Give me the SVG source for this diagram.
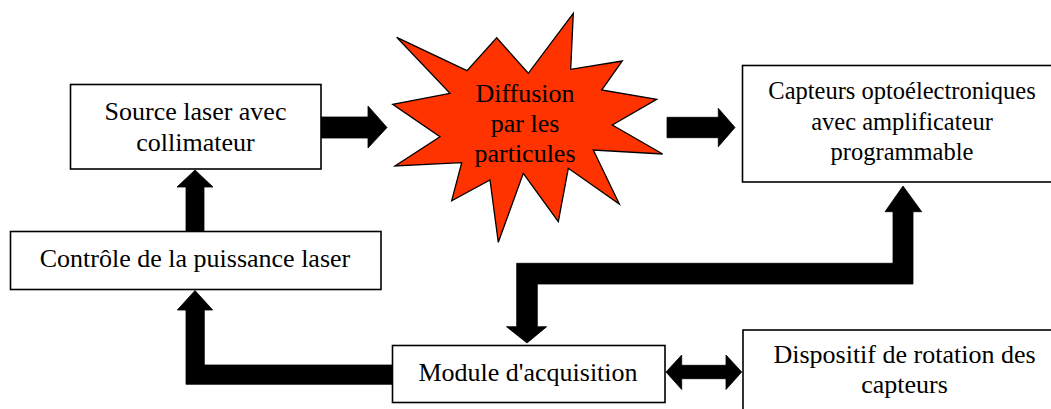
<svg xmlns="http://www.w3.org/2000/svg" width="1051" height="409" viewBox="0 0 1051 409">
<style>
.box{fill:#fff;stroke:#000;stroke-width:1.6}
.t{font-family:"Liberation Serif","Times New Roman",serif;font-size:26px;fill:#000;text-anchor:middle}
.s{font-size:24.5px}
.arr{fill:#000;stroke:#000;stroke-width:0.8;stroke-linejoin:miter}
.star{fill:#FF3300;stroke:#000;stroke-width:1.3;stroke-linejoin:miter}
</style>
<rect width="1051" height="409" fill="#fff"/>
<g id="connectors">
<polygon class="arr" points="321,117 368,117 368,106 387,127.5 368,148 368,138 321,138"/>
<polygon class="arr" points="667,117.3 718.3,117.3 718.3,108.3 735,127.5 718.3,146.7 718.3,137.7 667,137.7"/>
<polygon class="arr" points="186,231 186,187 177,187 195,170 213,187 204,187 204,231"/>
<polygon class="arr" points="392,365 204.3,365 204.3,310 212.7,310 195,290.5 177.3,310 186,310 186,384.3 392,384.3"/>
<polygon class="arr" points="903,186 921.7,211.7 913,211.7 913,284 537.3,284 537.3,326.7 546.7,326.7 527,343 506.5,326.7 516.7,326.7 516.7,263.3 893,263.3 893,211.7 885,211.7"/>
<polygon class="arr" points="666,372 681.7,355 681.7,365.3 726,365.3 726,355 741.7,372 726,389.5 726,378.7 681.7,378.7 681.7,389.5"/>
</g>
<g id="source">
<rect class="box" x="70.5" y="84.5" width="250.5" height="84.5"/>
<text class="t" x="195.5" y="120">Source laser avec</text>
<text class="t" x="195.5" y="151">collimateur</text>
</g>
<g id="controle">
<rect class="box" x="10.5" y="231.5" width="370.5" height="58"/>
<text class="t" x="195" y="267">Contrôle de la puissance laser</text>
</g>
<g id="diffusion">
<polygon class="star" points="573.3,13.3 570.7,69.3 622.3,61 601.7,90 656.7,99.3 612.3,125 662.7,154 593.3,150 619.3,204 568.3,168.3 558.3,221.7 523.3,173.3 498.3,242.3 490,180 451.7,200.7 461.7,162.7 395,166 440,136.7 392.7,104.3 450,93.3 396.7,37.3 467,70.7 496.7,37.7 528.3,73.3"/>
<text class="t" x="525" y="101.7">Diffusion</text>
<text class="t" x="525" y="132">par les</text>
<text class="t" x="525" y="162.3">particules</text>
</g>
<g id="capteurs">
<rect class="box" x="742.5" y="65.5" width="320" height="116.5"/>
<text class="t s" x="902" y="99">Capteurs optoélectroniques</text>
<text class="t s" x="902" y="129.5">avec amplificateur</text>
<text class="t s" x="902" y="160">programmable</text>
</g>
<g id="module">
<rect class="box" x="392.5" y="345.5" width="272.5" height="57"/>
<text class="t" x="528" y="381">Module d'acquisition</text>
</g>
<g id="dispositif">
<rect class="box" x="743" y="330" width="320" height="100"/>
<text class="t" x="904.5" y="363">Dispositif de rotation des</text>
<text class="t" x="904.5" y="393">capteurs</text>
</g>
</svg>
